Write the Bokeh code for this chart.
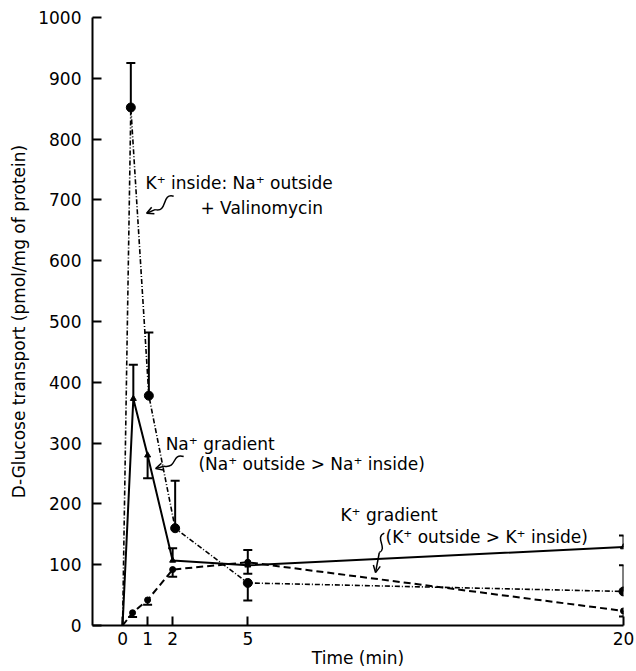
from bokeh.plotting import figure
from bokeh.models import FixedTicker, Range1d, Arrow, OpenHead, ColumnDataSource
from bokeh.core.properties import value
from bokeh.embed import file_html
from bokeh.resources import INLINE

# ---------------- data ----------------
x_ticks = [0, 1, 2, 5, 20]
y_ticks = [0, 100, 200, 300, 400, 500, 600, 700, 800, 900, 1000]

# K+ inside : Na+ outside + Valinomycin  (dash-dot, large dots)
val_t = [0, 0.33, 1.05, 2.1, 5, 20]
val_y = [0, 852, 378, 160, 70, 56]
val_err = [0, 925, 482, 238, 41, 99]

# Na+ gradient (solid)
na_t = [0, 0.43, 1, 2, 5, 20]
na_y = [0, 373, 280, 107, 99, 129]
na_err = [0, 429, 242, 127, 85, 148]

# K+ gradient (dashed)
k_t = [0, 0.4, 1, 2, 5, 20]
k_y = [0, 21, 42, 92, 104, 24]
k_err = [0, 14, 34, 80, 124, 15]

ann_text = ["K\u207a inside: Na\u207a outside", "+ Valinomycin",
            "Na\u207a gradient", "(Na\u207a outside > Na\u207a inside)",
            "K\u207a gradient", "(K\u207a outside > K\u207a inside)"]
x_title = "Time (min)"
y_title = "D-Glucose transport (pmol/mg of protein)"

# ---------------- layout ----------------
FONT = "DejaVu Sans"
ann_x = [0.92, 3.11, 1.72, 3.03, 8.70, 10.5]
ann_y = [727, 687, 299, 266, 181, 145]

p = figure(width=636, height=671,
           x_range=Range1d(-1.2, 20.0), y_range=Range1d(0, 1000),
           output_backend="svg", toolbar_location=None,
           min_border_left=92, min_border_right=13,
           min_border_top=17, min_border_bottom=46)
p.grid.visible = False
p.outline_line_color = None
p.background_fill_color = "white"
p.border_fill_color = "white"

for ax in (p.xaxis[0], p.yaxis[0]):
    ax.axis_line_width = 2
    ax.axis_line_color = "black"
    ax.major_tick_line_width = 2
    ax.major_tick_line_color = "black"
    ax.major_tick_in = 9
    ax.major_tick_out = 0
    ax.minor_tick_in = 0
    ax.minor_tick_out = 0
    ax.major_label_text_font = FONT
    ax.major_label_text_font_size = "17px"
    ax.major_label_text_color = "black"
    ax.axis_label_text_font = FONT
    ax.axis_label_text_font_size = "17px"
    ax.axis_label_text_font_style = "normal"
    ax.axis_label_text_color = "black"

p.xaxis.ticker = FixedTicker(ticks=x_ticks)
p.yaxis.ticker = FixedTicker(ticks=y_ticks)
p.xaxis.major_label_standoff = 6
p.xaxis.axis_label_standoff = 0
p.yaxis.major_label_standoff = 11
p.yaxis.axis_label_standoff = 6
p.xaxis.axis_label = x_title
p.yaxis.axis_label = y_title


def series(t, y, err, dash, lw, marker, msize):
    p.line(t, y, line_color="black", line_width=lw, line_dash=dash)
    et = [a for a, b, c in zip(t, y, err) if b != c]
    ey0 = [b for b, c in zip(y, err) if b != c]
    ey1 = [c for b, c in zip(y, err) if b != c]
    p.segment(x0=et, y0=ey0, x1=et, y1=ey1, line_color="black", line_width=2)
    p.dash(x=et, y=ey1, size=9, line_color="black", line_width=2)
    mt = [a for a in t if a != 0]
    my = [b for a, b in zip(t, y) if a != 0]
    p.scatter(mt, my, marker=marker, size=msize, fill_color="black", line_color="black")


series(val_t, val_y, val_err, "5 2 1 2", 1.6, "circle", 9)
series(na_t, na_y, na_err, "solid", 2, "triangle", 6)
series(k_t, k_y, k_err, "7 4", 2, "circle", 6)

src = ColumnDataSource(dict(x=ann_x, y=ann_y, text=ann_text))
p.text(x="x", y="y", text="text", source=src, text_font=value(FONT),
       text_font_size="17px", text_baseline="middle", text_align="left",
       text_color="black")

# squiggly pointers
p.bezier(x0=[2.04, 2.44, 10.45], y0=[706, 278, 152],
         x1=[1.3, 1.65, 10.25], y1=[684, 262, 120],
         cx0=[1.55, 1.95, 10.05], cy0=[712, 284, 145],
         cx1=[1.8, 2.2, 10.6], cy1=[678, 258, 127],
         line_color="black", line_width=1.5)
for xs, ys, xe, ye in [(1.3, 684, 0.96, 678), (1.65, 262, 1.32, 258), (10.25, 120, 10.1, 87)]:
    p.add_layout(Arrow(x_start=xs, y_start=ys, x_end=xe, y_end=ye,
                       line_color="black", line_width=1.5,
                       end=OpenHead(size=7, line_color="black", line_width=1.5)))

open("out.html", "w").write(file_html(p, INLINE))
